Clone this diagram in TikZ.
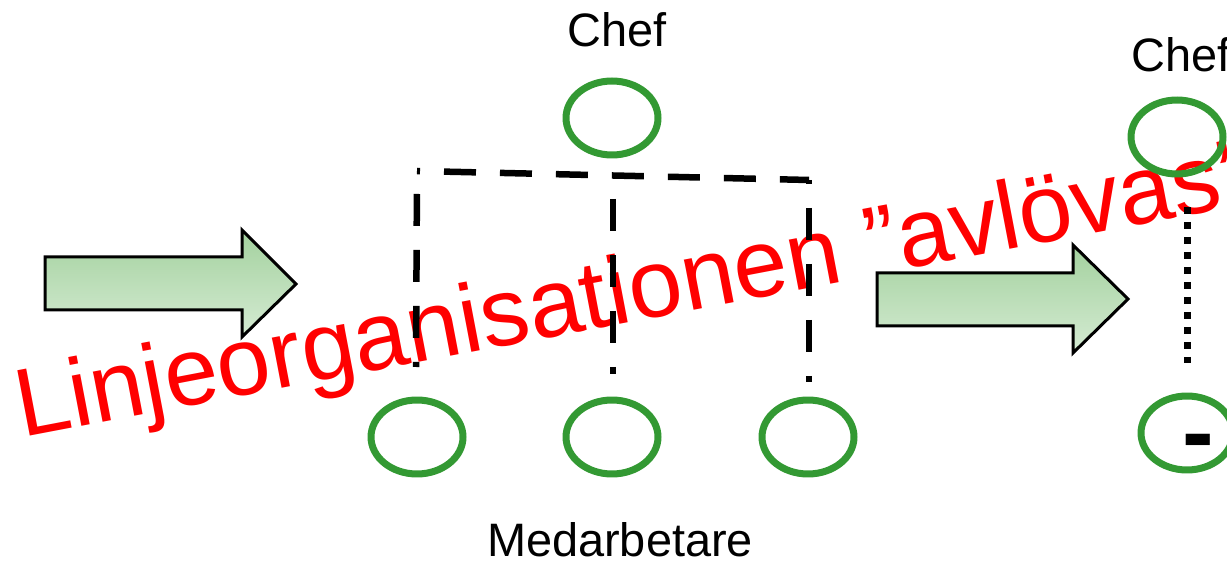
\documentclass[tikz,border=0pt]{standalone}
\usepackage{fontspec}
\setmainfont{Liberation Sans}
\usetikzlibrary{shapes.geometric,positioning}
\definecolor{orggreen}{RGB}{51,153,51}
\definecolor{arrowtop}{RGB}{163,209,158}
\definecolor{arrowbottom}{RGB}{213,235,211}
\tikzset{
  person/.style={ellipse, draw=orggreen, line width=0.14cm,
    minimum width=1.84cm, minimum height=1.48cm, inner sep=0pt},
  roletext/.style={font=\fontsize{26.7pt}{30pt}\selectfont, inner sep=0pt},
  slogantext/.style={font=\fontsize{55pt}{60pt}\selectfont, text=red, inner sep=0pt},
  orgline/.style={line width=0.13cm, dash pattern=on 0.64cm off 0.48cm},
  dotline/.style={line width=0.14cm, dash pattern=on 0.14cm off 0.16cm},
  bigarrow/.style={draw, line width=0.06cm, top color=arrowtop, bottom color=arrowbottom}
}
\begin{document}
\begin{tikzpicture}[x=0.02cm,y=-0.02cm]
  \useasboundingbox (0,0) rectangle (1227,563);

  \node[slogantext, rotate=10.8, anchor=base west] (slogan) at (22,438)
    {Linjeorganisationen ”avlövas”};

  \draw[bigarrow] (45,257) -- (242,257) -- (242,230) -- (296,284)
    -- (242,337) -- (242,310) -- (45,310) -- cycle;
  \draw[bigarrow] (877,273) -- (1073,273) -- (1073,245) -- (1128,299)
    -- (1073,353) -- (1073,326) -- (877,326) -- cycle;

  \node[person] (chef) at (612,118) {};
  \node[person] (med1) at (417,437) {};
  \node[person] (med2) at (612,437) {};
  \node[person] (med3) at (808,437) {};
  \node[roletext, anchor=base] (cheftext) at (617,47) {Chef};
  \node[roletext, anchor=base] (medtext) at (620,557) {Medarbetare};

  \coordinate (t1) at (417,171);
  \coordinate (t2) at (613,176);
  \coordinate (t3) at (809,180);
  \coordinate (b1) at (416,367);
  \coordinate (b2) at (613,374);
  \coordinate (b3) at (809,382);
  \draw[orgline, dash phase=0.58cm] (t1) -- (t3);
  \draw[orgline, dash phase=0.66cm] (t1) -- (b1);
  \draw[orgline, dash phase=0.66cm] (t2) -- (b2);
  \draw[orgline, dash phase=0.56cm] (t3) -- (b3);

  \node[person] (chefB) at (1177,137) {};
  \node[person] (medB) at (1187,433) {};
  \node[roletext, anchor=base west] (cheftextB) at (1131,72) {Chef};
  \node[font=\fontsize{54pt}{60pt}\selectfont\bfseries, inner sep=0pt, anchor=base]
    (minus) at (1198,465) {-};
  \coordinate (dtop) at (1187,207);
  \coordinate (dbot) at (1187,363);
  \draw[dotline] (dtop) -- (dbot);
\end{tikzpicture}
\end{document}
